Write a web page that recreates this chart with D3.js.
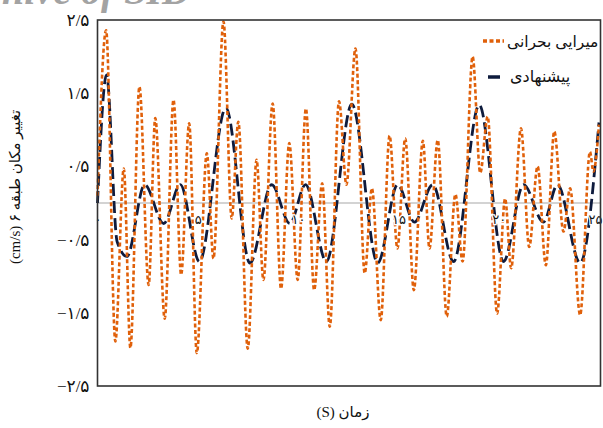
<!DOCTYPE html>
<html>
<head>
<meta charset="utf-8">
<script src="https://cdn.jsdelivr.net/npm/d3@7"></script>
<style>
  html, body { margin: 0; padding: 0; background: #fff; }
  svg { display: block; }
</style>
</head>
<body>
<svg id="chart" width="603" height="428"></svg>
<script>
// ---- data ----
const orangeT = [0, 0.43, 0.89, 1.31, 1.64, 2.09, 2.55, 2.88, 3.35, 3.79, 4.17, 4.57, 4.95, 5.45, 5.78, 6.28, 6.69, 7.02, 7.49, 7.93, 8.27, 8.73, 9.15, 9.56, 9.98, 10.39, 10.8, 11.2, 11.58, 12.04, 12.41, 12.86, 13.32, 13.68, 14.12, 14.56, 14.95, 15.34, 15.77, 16.22, 16.55, 16.96, 17.41, 17.84, 18.2, 18.7, 19.08, 19.45, 19.92, 20.32, 20.62, 21.11, 21.52, 21.94, 22.35, 22.77, 23.23, 23.56, 24.06, 24.55, 24.72, 25];
const orangeV = [0.1, 2.36, -1.89, 0.47, -1.98, 1.59, -1.12, 1.16, -1.58, 1.41, -0.98, 1.09, -2.05, 0.68, -0.76, 2.48, -0.21, 1.11, -1.99, 0.59, -1.05, 1.36, -1.17, 0.82, -1.05, 1.29, -1.19, 0.27, -1.69, 1.39, 0.25, 2.11, -0.96, 0.2, -1.6, 0.92, -0.62, 0.88, -1.19, 0.85, -0.62, 0.86, -1.55, 0.12, -0.8, 2.0, 0.41, 1.18, -1.51, 0.06, -0.89, 1.02, -0.6, 0.5, -0.85, 0.98, -0.39, 0.2, -1.53, 0.7, 0.43, 1.07];
const navyT = [0, 0.45, 0.98, 1.47, 2.35, 3.3, 4.13, 5.08, 6.4, 7.6, 8.68, 9.59, 10.37, 11.41, 12.68, 13.97, 14.96, 15.8, 16.71, 17.75, 19.03, 20.24, 21.24, 22.23, 22.93, 24.06, 25];
const navyV = [0.0, 1.75, -0.53, -0.73, 0.25, -0.28, 0.25, -0.8, 1.3, -0.82, 0.25, -0.28, 0.25, -0.8, 1.35, -0.82, 0.25, -0.26, 0.25, -0.8, 1.34, -0.8, 0.25, -0.26, 0.25, -0.82, 1.1];
const seriesNames = ["میرایی بحرانی", "پیشنهادی"];
const yTickValues = [2.5, 1.5, 0.5, -0.5, -1.5, -2.5];
const yTickLabels = ["۲/۵", "۱/۵", "۰/۵", "−۰/۵", "−۱/۵", "−۲/۵"];
const xTickValues = [0, 5, 10, 15, 20, 25];
const xTickLabels = ["۰", "۵", "۱۰", "۱۵", "۲۰", "۲۵"];
const yTitle = "تغییر مکان طبقه ۶ (cm/s)";
const xTitle = "زمان (S)";
const watermark = "Archive of SID";

// ---- layout ----
const svg = d3.select("#chart");
const L = 97.5, R = 600.5, T = 20, B = 386;
const x = d3.scaleLinear().domain([0, 25]).range([L, 599]);
const y = d3.scaleLinear().domain([-2.5, 2.5]).range([B, T]);
const font = "'Liberation Serif', 'DejaVu Sans', serif";

svg.append("rect").attr("width", 603).attr("height", 428).attr("fill", "#fff");

// watermark
svg.append("text")
  .attr("x", 191).attr("y", 4)
  .attr("text-anchor", "end")
  .attr("font-family", "'Liberation Serif', serif")
  .attr("font-style", "italic").attr("font-weight", "bold")
  .attr("font-size", 40).attr("fill", "#a3a3a3")
  .text(watermark);

// zero line
svg.append("line")
  .attr("x1", L).attr("x2", R)
  .attr("y1", y(0)).attr("y2", y(0))
  .attr("stroke", "#c4c4c4").attr("stroke-width", 1.5);

// series
const line = d3.line().x(d => x(d[0])).y(d => y(d[1])).curve(d3.curveMonotoneX);
const orangeData = orangeT.map((t, i) => [t, orangeV[i]]);
const navyData = navyT.map((t, i) => [t, navyV[i]]);

svg.append("path").datum(navyData)
  .attr("d", line).attr("fill", "none")
  .attr("stroke", "#0e1b3d").attr("stroke-width", 2.8)
  .attr("stroke-dasharray", "12,5");

svg.append("path").datum(orangeData)
  .attr("d", line).attr("fill", "none")
  .attr("stroke", "#e0600a").attr("stroke-width", 2.6)
  .attr("stroke-dasharray", "4,2.5");

// x axis labels along the zero line (drawn over the lines)
const xAxis = d3.axisBottom(x).tickValues(xTickValues)
  .tickFormat((d, i) => xTickLabels[i]).tickSize(0).tickPadding(12);
const gx = svg.append("g").attr("transform", `translate(0,${y(0)})`).call(xAxis);
gx.select(".domain").remove();
gx.selectAll("text")
  .attr("font-family", "'DejaVu Sans', sans-serif").attr("font-size", 13).attr("fill", "#111")
  .attr("stroke", "#fff").attr("stroke-width", 2.5).attr("paint-order", "stroke");
gx.selectAll(".tick").filter(d => d === 25).select("text")
  .attr("text-anchor", "end").attr("x", 3);

// frame
svg.append("rect")
  .attr("x", L).attr("y", T).attr("width", R - L).attr("height", B - T)
  .attr("fill", "none").attr("stroke", "#333").attr("stroke-width", 1.6);

// y axis
const yAxis = d3.axisLeft(y).tickValues(yTickValues)
  .tickFormat((d, i) => yTickLabels[i]).tickSize(0).tickPadding(8);
const gy = svg.append("g").attr("transform", `translate(${L},0)`).call(yAxis);
gy.select(".domain").remove();
gy.selectAll("text").attr("font-family", font).attr("font-size", 17).attr("fill", "#111");

// titles
svg.append("text")
  .attr("transform", "translate(20,187) rotate(-90)")
  .attr("text-anchor", "middle")
  .attr("direction", "rtl")
  .attr("font-family", font).attr("font-size", 15).attr("fill", "#111")
  .text(yTitle);

svg.append("text")
  .attr("x", 343).attr("y", 417)
  .attr("text-anchor", "middle")
  .attr("direction", "rtl")
  .attr("font-family", font).attr("font-size", 15).attr("fill", "#111")
  .text(xTitle);

// legend
const lg = svg.append("g");
lg.append("line").attr("x1", 483).attr("x2", 504).attr("y1", 41).attr("y2", 41)
  .attr("stroke", "#e0600a").attr("stroke-width", 3.5).attr("stroke-dasharray", "4,2.5");
lg.append("text").attr("x", 507).attr("y", 47)
  .attr("font-family", font).attr("font-size", 15.5).attr("fill", "#111")
  .text(seriesNames[0]);
lg.append("line").attr("x1", 488).attr("x2", 500).attr("y1", 77).attr("y2", 77)
  .attr("stroke", "#0e1b3d").attr("stroke-width", 3.5);
lg.append("text").attr("x", 510).attr("y", 82)
  .attr("font-family", font).attr("font-size", 16).attr("fill", "#111")
  .text(seriesNames[1]);
</script>
</body>
</html>
